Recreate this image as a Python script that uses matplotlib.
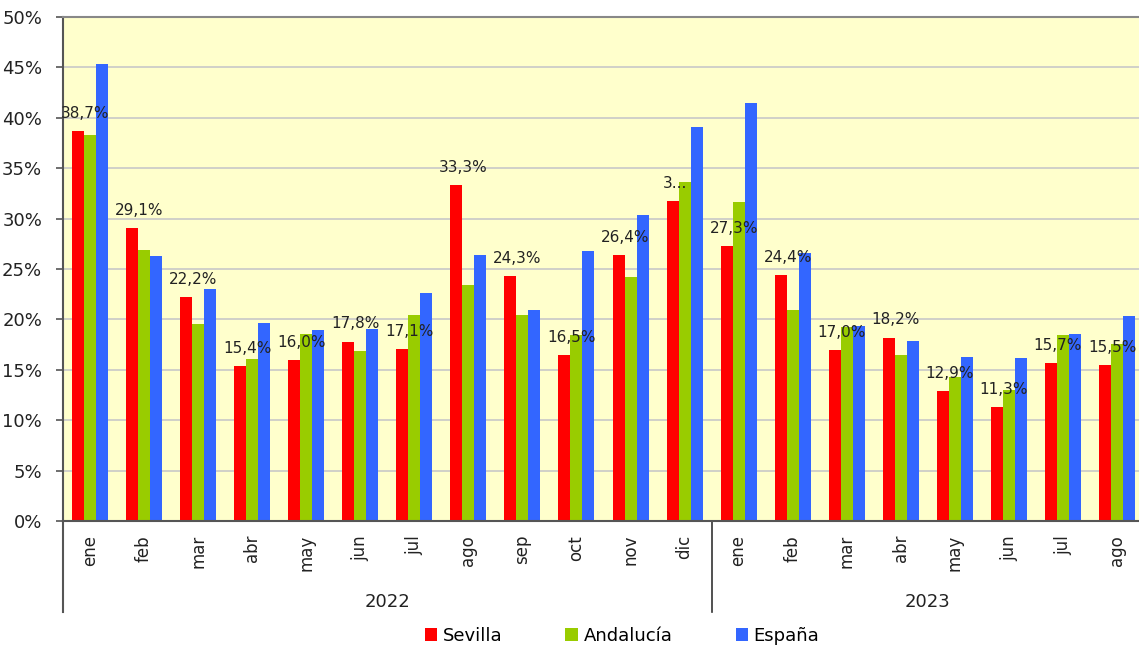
import matplotlib.pyplot as plt
import numpy as np

plt.rcParams['font.family'] = ['DejaVu Sans']

# data
months = ['ene', 'feb', 'mar', 'abr', 'may', 'jun', 'jul', 'ago', 'sep', 'oct', 'nov', 'dic',
          'ene', 'feb', 'mar', 'abr', 'may', 'jun', 'jul', 'ago']
years = ['2022', '2023']
year_counts = [12, 8]
sevilla = [38.7, 29.1, 22.2, 15.4, 16.0, 17.8, 17.1, 33.3, 24.3, 16.5, 26.4, 31.7,
           27.3, 24.4, 17.0, 18.2, 12.9, 11.3, 15.7, 15.5]
andalucia = [38.3, 26.9, 19.5, 16.1, 18.6, 16.9, 20.4, 23.4, 20.4, 18.5, 24.2, 33.6,
             31.6, 20.9, 19.2, 16.5, 14.3, 13.0, 18.5, 17.6]
espana = [45.3, 26.3, 23.0, 19.6, 18.9, 19.0, 22.6, 26.4, 20.9, 26.8, 30.4, 39.1,
          41.5, 26.6, 19.3, 17.9, 16.3, 16.2, 18.6, 20.3]
sevilla_labels = ['38,7%', '29,1%', '22,2%', '15,4%', '16,0%', '17,8%', '17,1%', '33,3%',
                  '24,3%', '16,5%', '26,4%', '3...', '27,3%', '24,4%', '17,0%', '18,2%',
                  '12,9%', '11,3%', '15,7%', '15,5%']
series = ['Sevilla', 'Andalucía', 'España']
colors = ['#FF0000', '#99CC00', '#3366FF']

fig = plt.figure(figsize=(11.39, 6.49), dpi=100)
ax = fig.add_axes([63/1139, 1 - 521/649, 1081/1139, 504/649])
ax.set_facecolor('#FFFFCC')

x = np.arange(len(months))
w = 0.222
for k, (vals, c, name) in enumerate(zip([sevilla, andalucia, espana], colors, series)):
    ax.bar(x + (k - 1) * w, vals, w, color=c, label=name, zorder=2)

for xi, v, lab in zip(x, sevilla, sevilla_labels):
    off = 0.04 if lab.endswith('...') else 0.13
    ax.text(xi - w + off, v + 1.0, lab, ha='center', va='bottom', fontsize=11,
            color='#222222', zorder=3)

ax.set_xlim(-0.5, len(months) - 0.5)
ax.set_ylim(0, 50)
ax.set_yticks(np.arange(0, 51, 5))
ax.set_yticklabels([f'{v}%' for v in range(0, 51, 5)], fontsize=13, color='#222222')
ax.grid(axis='y', color='#C8C8C8', linewidth=1.2, zorder=0)
ax.tick_params(axis='y', length=5, width=1.2, color='#555555', pad=10)

ax.set_xticks(x)
ax.set_xticklabels(months, rotation=90, fontsize=12, color='#222222', va='top')
ax.tick_params(axis='x', length=0, pad=10)

for s in ['top', 'left', 'bottom']:
    ax.spines[s].set_color('#555555')
    ax.spines[s].set_linewidth(1.5)
ax.spines['top'].set_color('#888888')
ax.spines['right'].set_visible(False)

# year labels and separators
drop = -(612 - 521) / 504
start = 0
for yr, n in zip(years, year_counts):
    ax.text(start + n / 2 - 0.5, -8.0, yr, ha='center', va='center', fontsize=13,
            color='#222222')
    ax.plot([start - 0.5, start - 0.5], [0, drop], transform=ax.get_xaxis_transform(),
            color='#333333' if start else '#555555', linewidth=1.2 if start else 1.5,
            clip_on=False)
    start += n

fig.legend(loc='center', bbox_to_anchor=(622/1139, 1 - 636/649), ncol=3,
           frameon=False, fontsize=13, handlelength=0.7, handleheight=0.7,
           handletextpad=0.3, columnspacing=3.5)

plt.savefig('out.png', dpi=100)
